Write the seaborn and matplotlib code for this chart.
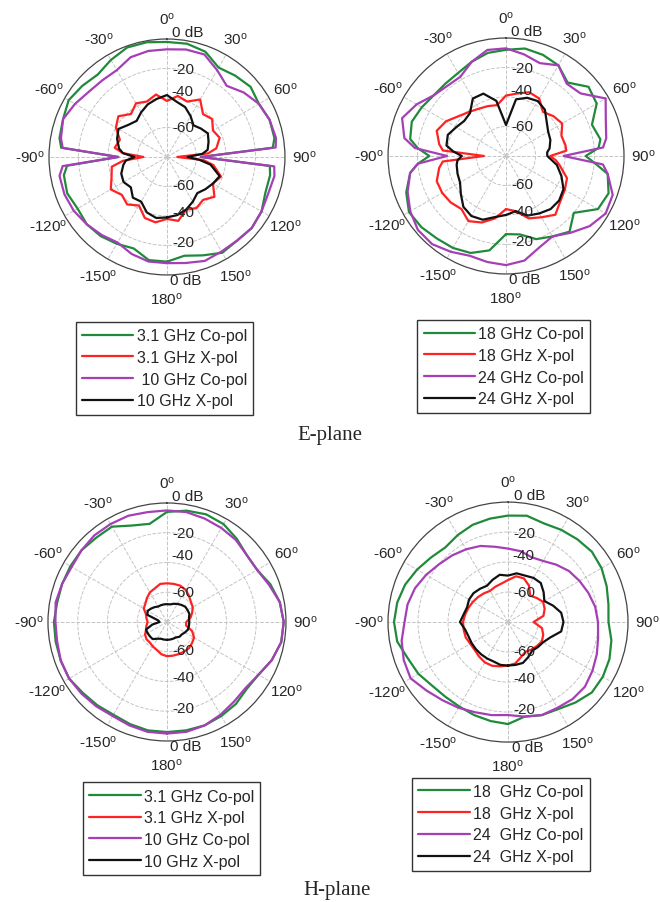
#!/usr/bin/env python3

import matplotlib
matplotlib.use('Agg')
import matplotlib.pyplot as plt
import numpy as np
import seaborn as sns

# angles (deg, clockwise from broadside); E-plane has extra points round the +/-90 nulls
ANG_E = [-180, -170, -160, -150, -140, -130, -120, -110, -100, -95, -90, -85, -80,
         -70, -60, -50, -40, -30, -20, -10, 0, 10, 20, 30, 40, 50, 60, 70, 80,
         85, 90, 95, 100, 110, 120, 130, 140, 150, 160, 170]
ANG_H = list(range(-180, 180, 10))

# E-plane, 3.1 / 10 GHz (dB)
E_31_CO = [-9, -9, -14, -12, -10, -9, -10, -8, -9, -12, -47, -8, -6,
           -5, -3, -5, -7, -4, -1, -1, -2, -2, -4, -10, -8, -6, -8, -6, -6,
           -8, -57, -10, -9, -9, -6, -5, -6, -5, -9, -12]
E_31_X = [-38, -35, -36, -42, -38, -40, -36, -40, -42, -50, -64, -50, -44,
          -46, -40, -37, -42, -38, -40, -37, -42, -38, -40, -35, -42, -40, -44, -42, -46,
          -52, -73, -55, -48, -41, -44, -38, -42, -40, -42, -36]
E_10_CO = [-8, -8, -10, -13, -11, -9, -7, -6, -6, -9, -47, -9, -7,
           -5, -8, -11, -12, -12, -8, -7, -7, -6, -6, -12, -17, -12, -8, -6, -5,
           -6, -57, -7, -6, -7, -6, -5, -6, -6, -5, -7]
E_10_X = [-39, -38, -40, -45, -44, -48, -46, -47, -50, -52, -58, -50, -47,
          -44, -42, -46, -48, -45, -42, -40, -38, -42, -44, -48, -52, -50, -48, -50, -52,
          -56, -66, -58, -50, -42, -44, -46, -48, -45, -42, -40]

# E-plane, 18 / 24 GHz (dB)
E_18_CO = [-27, -15, -10, -8, -7, -5, -4, -8, -14, -20, -28, -20, -14,
           -12, -14, -16, -16, -15, -12, -9, -8, -6, -7, -9, -15, -7, -9, -18, -15,
           -17, -26, -19, -10, -6, -8, -20, -13, -17, -20, -26]
E_18_X = [-44, -37, -32, -29, -33, -31, -30, -30, -34, -37, -65, -37, -34,
          -30, -33, -38, -41, -43, -44, -45, -39, -37, -34, -35, -41, -38, -36, -40, -39,
          -39, -50, -46, -43, -36, -34, -32, -28, -32, -35, -42]
E_24_CO = [-6, -7, -8, -5, -2, -2, -5, -9, -14, -20, -40, -18, -10,
           -5, -10, -16, -18, -18, -12, -7, -7, -10, -13, -9, -16, -14, -2, -8, -11,
           -14, -41, -14, -10, -3, -2, -6, -12, -17, -14, -8]
E_24_X = [-40, -38, -34, -33, -35, -40, -44, -45, -46, -47, -50, -44, -39,
          -38, -41, -43, -42, -35, -35, -42, -59, -41, -38, -37, -39, -44, -47, -48, -50,
          -52, -52, -49, -45, -40, -35, -33, -33, -35, -37, -42]

# H-plane, 3.1 / 10 GHz (dB)
H_31_CO = [-6, -6, -7, -8, -7, -6, -4, -4, -4, -4, -5, -5, -5, -5, -6, -6, -11, -13,
           -6, -4, -3, -4, -7, -10, -10, -6, -3, -1.5, -2, -5, -9, -10, -8, -7, -6, -6]
H_31_X = [-57, -58, -60, -61, -62, -62, -63, -65, -66, -67, -66, -65, -62, -61, -59, -57, -56, -54,
          -54, -54, -54, -55, -57, -59, -60, -62, -64, -67, -67, -62, -59, -58, -57, -57, -57, -57]
H_10_CO = [-5, -5, -6, -7, -6, -5, -4, -4, -5, -5, -4, -5, -6, -5, -4, -4, -4, -5,
           -5, -5, -6, -7, -8, -10, -10, -7, -3, -1.5, -2, -5, -9, -11, -10, -8, -6, -5]
H_10_X = [-68, -68, -68, -67, -65, -65, -65, -65, -70, -75, -74, -66, -65, -66, -67, -68, -68, -68,
          -68, -68, -67, -66, -65, -64, -64, -64, -65, -65, -65, -65, -66, -67, -67, -68, -68, -68]

# H-plane, 18 / 24 GHz (dB)
H_18_CO = [-12, -13, -14, -15, -15, -14, -11, -9, -5, -4, -5, -7, -10, -13, -15, -13, -11, -10,
           -9, -8, -10, -9, -8, -7, -8, -10, -12, -13, -10, -8, -7, -7, -10, -13, -14, -16]
H_18_X = [-51, -50, -49, -49, -50, -51, -51, -50, -50, -50, -51, -52, -53, -54, -55, -56, -55, -54,
          -52, -49, -49, -52, -57, -55, -53, -54, -56, -63, -57, -55, -54, -55, -56, -57, -55, -52]
H_24_CO = [-18, -17, -16, -14, -12, -9, -5, -6, -8, -11, -12, -14, -17, -20, -22, -24, -26, -29,
           -31, -32, -34, -33, -30, -27, -25, -23, -21, -20, -19, -17, -15, -13, -13, -14, -14, -16]
H_24_X = [-51, -51, -52, -52, -52, -52, -52, -52, -51, -48, -50, -51, -50, -50, -51, -52, -50, -48,
          -49, -47, -47, -46, -46, -49, -52, -48, -44, -43, -44, -50, -53, -54, -55, -53, -51, -51]

COLORS = ['#1f8a3a', '#ff2222', '#a53fb5', '#111111']

PANELS = [
    ([0.0742, 0.6944, 0.3576, 0.2613], ANG_E, [E_31_CO, E_31_X, E_10_CO, E_10_X],
     ['3.1 GHz Co-pol', '3.1 GHz X-pol', ' 10 GHz Co-pol', '10 GHz X-pol'], (0.49, -0.165)),
    ([0.5879, 0.6955, 0.3576, 0.2613], ANG_E, [E_18_CO, E_18_X, E_24_CO, E_24_X],
     ['18 GHz Co-pol', '18 GHz X-pol', '24 GHz Co-pol', '24 GHz X-pol'], (0.49, -0.16)),
    ([0.0727, 0.1783, 0.3606, 0.2636], ANG_H, [H_31_CO, H_31_X, H_10_CO, H_10_X],
     ['3.1 GHz Co-pol', '3.1 GHz X-pol', '10 GHz Co-pol', '10 GHz X-pol'], (0.52, -0.14)),
    ([0.5879, 0.1771, 0.3636, 0.2658], ANG_H, [H_18_CO, H_18_X, H_24_CO, H_24_X],
     ['18  GHz Co-pol', '18  GHz X-pol', '24  GHz Co-pol', '24  GHz X-pol'], (0.47, -0.115)),
]

THETA_LABELS = [0, 30, 60, 90, 120, 150, 180, -150, -120, -90, -60, -30]


def draw_panel(fig, rect, ang, series, labels, leg_anchor):
    ax = fig.add_axes(rect, projection='polar')
    ax.set_theta_zero_location('N')
    ax.set_theta_direction(-1)

    for vals, col, lab in zip(series, COLORS, labels):
        th = np.radians(np.append(ang, 180))
        r = np.append(vals, vals[0])
        sns.lineplot(x=th, y=r, ax=ax, color=col, lw=1.6, sort=False,
                     estimator=None, label=lab, legend=False)

    ax.set_rlim(-80, 0)
    ax.set_thetagrids(range(0, 360, 30), labels=[])
    ax.set_rgrids([-60, -40, -20], labels=[])
    ax.grid(True, ls='--', color='#c4c4c4', lw=0.7)
    ax.spines['polar'].set_color('#444444')
    ax.spines['polar'].set_linewidth(0.9)
    ax.set_xlabel('')
    ax.set_ylabel('')

    # angle labels outside the circle
    for t in THETA_LABELS:
        a = np.radians(t)
        rf = 0.58
        if t == 0:
            rf = 0.585
        if t == 180:
            rf = 0.6
        ax.text(0.5 + rf * np.sin(a), 0.5 + rf * np.cos(a), f'{t}$^{{\\mathrm{{o}}}}$',
                transform=ax.transAxes, ha='center', va='center', fontsize=11)

    # radial (dB) labels along the vertical axis
    px = 1 / 236
    for dx, dy, txt in [(21, 125, '0 dB'), (16, 88, '-20'), (15, 66, '-40'), (16, 30, '-60'),
                        (16, -28, '-60'), (16, -55, '-40'), (16, -85, '-20'), (19, -123, '0 dB')]:
        ax.text(0.5 + dx * px, 0.5 + dy * px, txt, transform=ax.transAxes,
                ha='center', va='center', fontsize=11)

    handles = ax.get_lines()[:4]
    leg = ax.legend(handles, labels, loc='upper center', bbox_to_anchor=leg_anchor,
                    fontsize=11.5, frameon=True, fancybox=False, framealpha=1,
                    edgecolor='#333333', handlelength=3.2, handletextpad=0.2,
                    labelspacing=0.42, borderpad=0.4)
    leg.get_frame().set_linewidth(1.0)
    return ax


def main():
    sns.set_style('white')
    plt.rcParams['font.family'] = ['Liberation Sans', 'DejaVu Sans']
    plt.rcParams['mathtext.fontset'] = 'custom'
    plt.rcParams['mathtext.rm'] = 'Liberation Sans'
    plt.rcParams['mathtext.it'] = 'Liberation Sans:italic'

    fig = plt.figure(figsize=(6.6, 9.03), dpi=100)

    for rect, ang, series, labels, anchor in PANELS:
        draw_panel(fig, rect, ang, series, labels, anchor)

    fig.text(0.5, 1 - 436 / 903, 'E-plane', ha='center', va='center',
             fontsize=15, family='Liberation Serif')
    fig.text(0.51, 1 - 891 / 903, 'H-plane', ha='center', va='center',
             fontsize=15, family='Liberation Serif')

    fig.savefig('out.png', dpi=100)
    print("Saved out.png")


if __name__ == "__main__":
    main()
